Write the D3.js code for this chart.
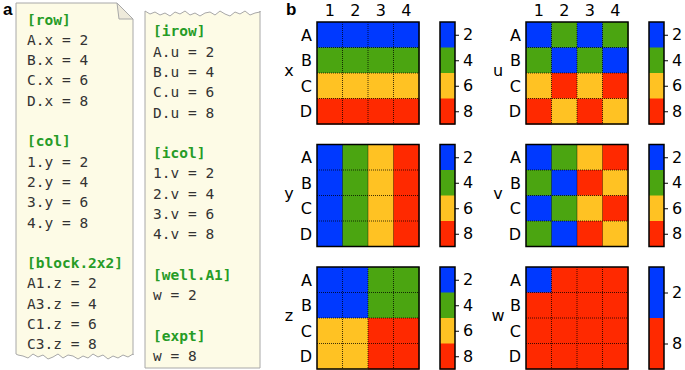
<!DOCTYPE html>
<html>
<head>
<meta charset="utf-8">
<script src="https://cdn.jsdelivr.net/npm/d3@7"></script>
<style>
    body { margin: 0; background: #ffffff; }
    svg { display: block; }
</style>
</head>
<body>
<div class="Figure"></div>
<script>

// ---- data ----

const row_labels = ["A", "B", "C", "D"];
const col_labels = ["1", "2", "3", "4"];
const levels = [2, 4, 6, 8];
const palette = ["#0039ff", "#4ba511", "#ffc223", "#ff2900"];

// one 4x4 table per variable, rows A..D
const values_x = [[2, 2, 2, 2], [4, 4, 4, 4], [6, 6, 6, 6], [8, 8, 8, 8]];
const values_u = [[2, 4, 2, 4], [4, 2, 4, 2], [6, 8, 6, 8], [8, 6, 8, 6]];
const values_y = [[2, 4, 6, 8], [2, 4, 6, 8], [2, 4, 6, 8], [2, 4, 6, 8]];
const values_v = [[2, 4, 6, 8], [4, 2, 8, 6], [2, 4, 6, 8], [4, 2, 8, 6]];
const values_z = [[2, 2, 4, 4], [2, 2, 4, 4], [6, 6, 8, 8], [6, 6, 8, 8]];
const values_w = [[2, 8, 8, 8], [8, 8, 8, 8], [8, 8, 8, 8], [8, 8, 8, 8]];

const panels = [
    {name: "x", values: values_x, ticks: levels},
    {name: "u", values: values_u, ticks: levels},
    {name: "y", values: values_y, ticks: levels},
    {name: "v", values: values_v, ticks: levels},
    {name: "z", values: values_z, ticks: levels},
    {name: "w", values: values_w, ticks: [2, 8]}
];

const note_left = [
    "[row]", "A.x = 2", "B.x = 4", "C.x = 6", "D.x = 8", "",
    "[col]", "1.y = 2", "2.y = 4", "3.y = 6", "4.y = 8", "",
    "[block.2x2]", "A1.z = 2", "A3.z = 4", "C1.z = 6", "C3.z = 8"
];
const note_right = [
    "[irow]", "A.u = 2", "B.u = 4", "C.u = 6", "D.u = 8", "",
    "[icol]", "1.v = 2", "2.v = 4", "3.v = 6", "4.v = 8", "",
    "[well.A1]", "w = 2", "",
    "[expt]", "w = 8"
];

// ---- layout ----

const width = 685;
const height = 370;
const cell_size = 102;
const col_x = [317, 526];
const row_y = [22, 144.5, 267];
const bar_offset = 123;
const bar_width = 15;

const sans = "'DejaVu Sans', sans-serif";
const mono = "'DejaVu Sans Mono', monospace";
const label_size = 16;

const svg = d3.select(".Figure")
    .append("svg")
    .attr("width", width)
    .attr("height", height);

const color = d3.scaleOrdinal().domain(levels).range(palette);

// ---- panel a: the two notes ----

// torn edge jitter, purely decorative
const jitter = [0, 3, 1, 4, 2, 5, 1, 3, 0, 4, 2, 5, 2, 1, 4, 0, 3, 5, 1, 3, 0, 4, 2, 1];

const torn_points = function (x0, x1, y, step) {
    const pts = [];
    let i = 0;
    for (let x = x0; (step > 0 ? x <= x1 : x >= x1); x += step) {
        pts.push([x, y + jitter[i % jitter.length]]);
        i += 1;
    }
    pts.push([x1, y + jitter[i % jitter.length]]);
    return pts;
};

const line = d3.line();

// left note: dog-ear on top right, torn bottom
const left_outline = [[16, 3], [117, 3], [133, 19], [133, 355]]
    .concat(torn_points(133, 16, 354, -5));
svg.append("path")
    .attr("d", line(left_outline) + "Z")
    .attr("fill", "#fdfbe6")
    .attr("stroke", "#a8a8a8")
    .attr("stroke-width", 1);
svg.append("path")
    .attr("d", line([[117, 3], [119, 19], [133, 19]]) + "Z")
    .attr("fill", "#eeeadb")
    .attr("stroke", "#a8a8a8")
    .attr("stroke-width", 1);

// right note: torn top
const right_outline = torn_points(145, 260, 11, 5)
    .concat([[260, 368], [145, 368]]);
svg.append("path")
    .attr("d", line(right_outline) + "Z")
    .attr("fill", "#fdfbe6")
    .attr("stroke", "#a8a8a8")
    .attr("stroke-width", 1);

const draw_note = function (lines, x, y0) {
    svg.append("g")
        .selectAll("text")
        .data(lines)
        .join("text")
        .attr("x", x)
        .attr("y", (d, i) => y0 + i * 20.3)
        .attr("font-family", mono)
        .attr("font-size", 14.5)
        .attr("font-weight", d => d.startsWith("[") ? "bold" : "normal")
        .attr("fill", d => d.startsWith("[") ? "#269c26" : "#333333")
        .style("white-space", "pre")
        .text(d => d);
};

draw_note(note_left, 27, 24.5);
draw_note(note_right, 153, 36.3);

svg.append("text")
    .attr("x", 3).attr("y", 15)
    .attr("font-family", "'Liberation Sans', Arial, sans-serif")
    .attr("font-size", 17).attr("font-weight", "bold")
    .text("a");
svg.append("text")
    .attr("x", 286).attr("y", 15)
    .attr("font-family", "'Liberation Sans', Arial, sans-serif")
    .attr("font-size", 17).attr("font-weight", "bold")
    .text("b");

// ---- panel b: heatmaps ----

const x_scale = d3.scaleBand().domain(col_labels).range([0, cell_size]);
const y_scale = d3.scaleBand().domain(row_labels).range([0, cell_size]);

const draw_panel = function (panel, index) {

    const left = col_x[index % 2];
    const top = row_y[Math.floor(index / 2)];

    const g = svg.append("g")
        .attr("transform", `translate(${left},${top})`);

    const cells = panel.values.flatMap((row, r) => row.map((value, c) => ({
        row: row_labels[r],
        col: col_labels[c],
        value: value
    })));

    g.selectAll(".Cell")
        .data(cells)
        .join("rect")
        .attr("class", "Cell")
        .attr("x", d => x_scale(d.col))
        .attr("y", d => y_scale(d.row))
        .attr("width", x_scale.bandwidth() + 0.5)
        .attr("height", y_scale.bandwidth() + 0.5)
        .attr("fill", d => color(d.value));

    // dotted well boundaries
    g.selectAll(".VLine")
        .data(col_labels.slice(1))
        .join("line")
        .attr("class", "VLine")
        .attr("x1", d => x_scale(d)).attr("x2", d => x_scale(d))
        .attr("y1", 0).attr("y2", cell_size)
        .attr("stroke", "#000").attr("stroke-opacity", 0.75)
        .attr("stroke-width", 1).attr("stroke-dasharray", "1,1");
    g.selectAll(".HLine")
        .data(row_labels.slice(1))
        .join("line")
        .attr("class", "HLine")
        .attr("x1", 0).attr("x2", cell_size)
        .attr("y1", d => y_scale(d)).attr("y2", d => y_scale(d))
        .attr("stroke", "#000").attr("stroke-opacity", 0.75)
        .attr("stroke-width", 1).attr("stroke-dasharray", "1,1");

    g.append("rect")
        .attr("width", cell_size).attr("height", cell_size)
        .attr("fill", "none")
        .attr("stroke", "#000").attr("stroke-width", 1.5);

    // row labels
    g.selectAll(".RowLabel")
        .data(row_labels)
        .join("text")
        .attr("class", "RowLabel")
        .attr("x", -5)
        .attr("y", d => y_scale(d) + y_scale.bandwidth() / 2)
        .attr("dy", "0.36em")
        .attr("text-anchor", "end")
        .attr("font-family", sans).attr("font-size", label_size)
        .text(d => d);

    // column labels only on the top row
    if (index < 2) {
        g.selectAll(".ColLabel")
            .data(col_labels)
            .join("text")
            .attr("class", "ColLabel")
            .attr("x", d => x_scale(d) + x_scale.bandwidth() / 2)
            .attr("y", -6)
            .attr("text-anchor", "middle")
            .attr("font-family", sans).attr("font-size", label_size)
            .text(d => d);
    }

    g.append("text")
        .attr("x", -28)
        .attr("y", cell_size / 2)
        .attr("dy", "0.2em")
        .attr("text-anchor", "middle")
        .attr("font-family", sans).attr("font-size", label_size)
        .text(panel.name);

    // colorbar
    const bar_scale = d3.scaleBand().domain(panel.ticks).range([0, cell_size]);
    const bar = g.append("g")
        .attr("transform", `translate(${bar_offset},0)`);

    bar.selectAll("rect")
        .data(panel.ticks)
        .join("rect")
        .attr("y", d => bar_scale(d))
        .attr("width", bar_width)
        .attr("height", bar_scale.bandwidth() + 0.5)
        .attr("fill", d => color(d));

    bar.append("rect")
        .attr("width", bar_width).attr("height", cell_size)
        .attr("fill", "none")
        .attr("stroke", "#000").attr("stroke-width", 1.5);

    const axis = d3.axisRight(d3.scalePoint().domain(panel.ticks)
        .range([bar_scale.bandwidth() / 2, cell_size - bar_scale.bandwidth() / 2]))
        .tickSize(4)
        .tickPadding(4);

    bar.append("g")
        .attr("transform", `translate(${bar_width},0)`)
        .call(axis)
        .call(a => a.select(".domain").remove())
        .call(a => a.selectAll("line").attr("stroke", "#000").attr("stroke-width", 1))
        .call(a => a.selectAll("text")
            .attr("font-family", sans).attr("font-size", label_size).attr("fill", "#000"));
};

panels.forEach(draw_panel);

</script>
</body>
</html>
